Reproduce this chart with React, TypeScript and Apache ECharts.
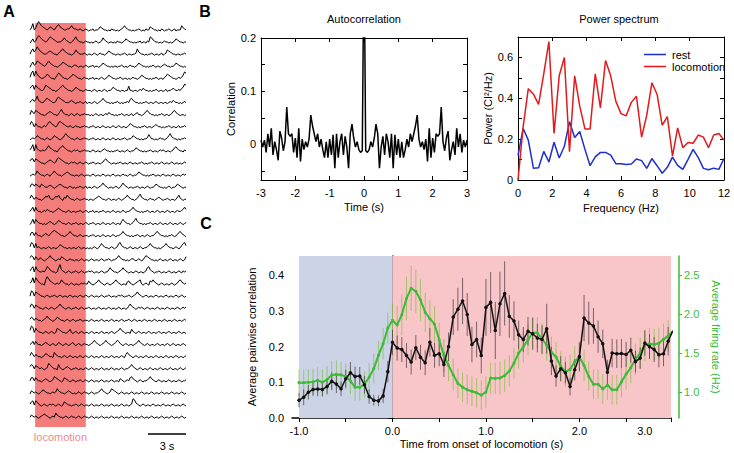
import React, { useEffect, useRef } from "react";
import * as echarts from "echarts";

// ---------- Panel A: calcium traces (each digit = relative height of a sample) ----------
const TRACES: string[] = [
  "1371369754321243213564321122353221121012" + "1011201124321101021101012353211010112101021143211010210112101201115321",
  "0241257643212465432111235321012463211012" + "1101012101253210110102110124321101011201102165321101012110101243211011",
  "1463586432112343211023564321101253211121" + "0110121012110124321101101121011011263211010112101101201254321101101121",
  "0352365432124643211012354321101221011012" + "1011201101243211010110112101012110124321101011210110123211011243211010",
  "2683853211235421102465321101235432110121" + "1011201101210124321101121011010121101243211010112101102354321101212476",
  "3562643211365432110123564321101243211012" + "1110121011012101124321101101151101101213211010112101101201123211213476",
  "1342473211245432112565432111232101121012" + "0110121012353211010112101011214532110101121011012101101101213211010121",
  "1532543211012343211024632110121012101121" + "1101012101101213211010112101101201231101245321101011210110124532101101",
  "3641421101213564321256543211210121101121" + "1011210110121011012101210110124321101011210110123211010112101101201121",
  "0121243211012101243210124643211012101121" + "1011210110121011012101101121011243211010112531101012110124632110101121",
  "2471732112124643211024564321101212101121" + "1101210110123211010112101101210112432110101121011012121011012453211021",
  "3552543211012343212565432110121210121012" + "1011210110124532101101121011012101101121010112101101210110121011010121",
  "0121253211012102353211012343211011012101" + "1101210110121011012101101211012101124321101011210110121011012101101212",
  "1442432143211232101234321101210101121012" + "0110121012353210110121013532101101121011012101124321101012101124321011",
  "2531321101243521124352103253211012101121" + "1011012343211012101101210123532110124632110121101232101121011013521011",
  "1351521101213211012343211012101101121012" + "1011201101121011012101101210112353211010112101101210110121011012112353",
  "0251532110101232101243211012101121011012" + "1011210110121011012101103532110124632110101121011012101101210110121012",
  "1441421101232124565432110123532110121011" + "1011210110121011012101123532110101121011012101124532110101121012453210",
  "2651512101101210110124321101101101210110" + "1010121013532110121012563211012101101210112353211010123532110121013563",
  "3541421321012353210121432101211011012101" + "1012101101210112101123532110101221012101354321101012101101210110121014",
  "2461632112136532110158321012101121012101" + "1212101101210113532110123532101101210110125632101121011012101101210212",
  "2372753211058643211212532110121011012121" + "1421012353210121012353210110342101234510121043532101210110121012453212",
  "1651543211012101121012101101210110121012" + "1012101101210112101101212101121012353210121011012101101210110121012101",
  "2541432110121012101235321012101121012101" + "1210110121011012101101210110135321012121012101101210110121011012101212",
  "2431321101235321012432110121012101121011" + "1012101101210110121011012101121012101101210110121011012101101210110121",
  "3761532110121012101543211012410121012101" + "1012101101210110121012353210110421012101101210110121011012101101210110",
  "1241421101232101210132101210123101210121" + "1012353210123532101235421012101101235321012101101210110121012101101210",
  "2531321101243211053211012101210110121012" + "1012101101210110121011012103532101210110121011012101101210110121011012",
  "3541432121012653211052101232101121011012" + "1012101101210110121011012101123532101210110121011012101101210110121012",
  "1441421101232101254321014321012101121012" + "1012101101210110121011032101214532101210112353210121011012101101210112",
  "0321210124321101212532110123210101210121" + "1012101123532101254321012101101210110121011012101101210110121011012101",
  "2451542101210121210121014321101121012101" + "1012101101210110121011012101101276321012101101210110121011012101101210",
  "1321210123432101215321101210121101210121" + "1012101101210110121011012101101210110121011012101101210110121011012101",
];
const TRACE_DURATION = 12.3; // seconds shown per trace
const LOCO_PERIOD = [0.4, 4.4]; // seconds
const SCALE_BAR_S = 3;

// ---------- Panel B: autocorrelation (lag >= 0, symmetric) ----------
const ACF_CENTER: number[][] = [
  [0, 1.0],
  [0.02, 0.22],
];
const ACF_STEP = 0.05;
// values at lags 0.05, 0.10, ... 3.00
const ACF_POS: number[] = [
  -0.012, -0.015, -0.01, 0.005, -0.005, 0.012, 0.038, 0.02, -0.045,
  -0.005, 0.015, -0.02, 0.02, 0.005, -0.025, 0.02, -0.045, 0.018, -0.02,
  0.01, -0.025, 0.005, -0.025, -0.01, 0.01, -0.005, 0.02, 0.005, 0.02,
  0.035, 0.055, 0.01, -0.005, 0.005, -0.01, 0.01, -0.032, 0.03, -0.025,
  0.012, -0.015, 0.02, 0.015, 0.02, 0.07, 0.005, -0.012, 0.012, 0.025,
  -0.03, -0.01, 0.005, -0.02, 0.03, -0.005, 0.02, -0.015, 0.008, -0.005,
  0.008,
];

// ---------- Panel B: power spectrum ----------
const FREQ_STEP = 0.3;
const PSD_REST: number[] = [
  0.12, 0.252, 0.195, 0.057, 0.06, 0.14, 0.088, 0.185, 0.108, 0.165,
  0.285, 0.208, 0.237, 0.15, 0.07, 0.113, 0.135, 0.135, 0.122, 0.08,
  0.08, 0.076, 0.078, 0.103, 0.095, 0.057, 0.105, 0.07, 0.033, 0.062,
  0.112, 0.072, 0.052, 0.1, 0.15, 0.11, 0.057, 0.05, 0.058, 0.052,
  0.105,
];
const PSD_LOCO: number[] = [
  0.0, 0.26, 0.447, 0.42, 0.37, 0.52, 0.678, 0.228, 0.51, 0.6,
  0.138, 0.51, 0.36, 0.25, 0.25, 0.52, 0.353, 0.585, 0.51, 0.385,
  0.325, 0.314, 0.38, 0.41, 0.21, 0.317, 0.476, 0.42, 0.268, 0.31,
  0.117, 0.255, 0.158, 0.184, 0.18, 0.22, 0.21, 0.158, 0.22, 0.228,
  0.195,
];

// ---------- Panel C ----------
const C_T0 = -1.0;
const C_DT = 0.05;
const REST_PERIOD = [-1.0, 0.0];
const LOCO_PERIOD_C = [0.0, 2.98];
const CORR: number[] = [
  0.05, 0.058, 0.072, 0.08, 0.081, 0.08, 0.088, 0.103, 0.095, 0.082,
  0.11, 0.127, 0.116, 0.118, 0.093, 0.06, 0.05, 0.048, 0.062, 0.13,
  0.212, 0.196, 0.192, 0.175, 0.157, 0.197, 0.17, 0.155, 0.212, 0.176,
  0.18, 0.15, 0.2, 0.283, 0.305, 0.328, 0.29, 0.206, 0.22, 0.175,
  0.31, 0.324, 0.245, 0.32, 0.349, 0.285, 0.272, 0.233, 0.22, 0.243,
  0.236, 0.224, 0.22, 0.25, 0.16, 0.118, 0.138, 0.127, 0.088, 0.135,
  0.172, 0.28, 0.266, 0.258, 0.228, 0.208, 0.128, 0.182, 0.18, 0.181,
  0.178, 0.19, 0.158, 0.168, 0.21, 0.2, 0.192, 0.177, 0.18, 0.215,
  0.245,
];
const CORR_ERR: number[] = [
  0.02, 0.022, 0.02, 0.018, 0.02, 0.02, 0.022, 0.025, 0.025, 0.02,
  0.025, 0.03, 0.028, 0.025, 0.025, 0.02, 0.015, 0.015, 0.02, 0.03,
  0.035, 0.035, 0.035, 0.035, 0.035, 0.035, 0.035, 0.035, 0.04, 0.035,
  0.035, 0.035, 0.04, 0.05, 0.06, 0.065, 0.06, 0.05, 0.05, 0.05,
  0.08, 0.085, 0.08, 0.09, 0.09, 0.06, 0.055, 0.04, 0.035, 0.04,
  0.045, 0.04, 0.04, 0.07, 0.04, 0.03, 0.035, 0.03, 0.025, 0.03,
  0.04, 0.065, 0.06, 0.05, 0.045, 0.04, 0.035, 0.04, 0.04, 0.04,
  0.035, 0.035, 0.03, 0.03, 0.035, 0.035, 0.035, 0.035, 0.035, 0.04,
  0.045,
];
const RATE: number[] = [
  1.12, 1.12, 1.125, 1.13, 1.15, 1.125, 1.16, 1.218, 1.226, 1.22,
  1.2, 1.145, 1.06, 1.06, 1.1, 1.19, 1.3, 1.47, 1.62, 1.82,
  1.92, 1.86, 1.99, 2.2, 2.33, 2.29, 2.18, 2.02, 1.94, 1.87,
  1.67, 1.47, 1.34, 1.22, 1.11, 1.06, 1.03, 1.01, 0.99, 0.96,
  1.0, 1.18, 1.175, 1.18, 1.21, 1.27, 1.37, 1.5, 1.58, 1.67,
  1.76, 1.76, 1.68, 1.6, 1.51, 1.45, 1.33, 1.26, 1.29, 1.39,
  1.45, 1.34, 1.2, 1.1, 1.1, 1.04, 1.09, 1.03, 1.03, 1.13,
  1.23, 1.31, 1.42, 1.5, 1.6, 1.62, 1.61, 1.625, 1.675, 1.72,
  1.78,
];
const RATE_ERR: number[] = [
  0.17, 0.17, 0.17, 0.17, 0.17, 0.17, 0.17, 0.18, 0.18, 0.17,
  0.17, 0.17, 0.17, 0.17, 0.17, 0.18, 0.19, 0.19, 0.2, 0.2,
  0.22, 0.24, 0.26, 0.28, 0.29, 0.28, 0.27, 0.25, 0.24, 0.23,
  0.22, 0.21, 0.2, 0.2, 0.19, 0.19, 0.19, 0.19, 0.19, 0.19,
  0.2, 0.2, 0.2, 0.21, 0.21, 0.2, 0.2, 0.2, 0.2, 0.2,
  0.2, 0.2, 0.2, 0.2, 0.2, 0.19, 0.19, 0.19, 0.19, 0.2,
  0.2, 0.2, 0.19, 0.19, 0.19, 0.19, 0.19, 0.19, 0.19, 0.2,
  0.2, 0.2, 0.2, 0.2, 0.2, 0.2, 0.2, 0.2, 0.2, 0.2,
  0.2,
];

// ---------- styling ----------
const FONT = "'Liberation Sans', Arial, Helvetica, sans-serif";
const GREEN = "#3cba38";
const BLUE = "#1c2fcc";
const RED = "#e3191c";

const gridA = { left: 30, top: 18, width: 156, height: 410 };
const gridB1 = { left: 261, top: 38, width: 206, height: 142 };
const gridB2 = { left: 518, top: 37, width: 206, height: 143 };
const gridC = { left: 292, top: 256, width: 379, height: 162 };

const lbl = { color: "#000", fontSize: 11, fontFamily: FONT };

function boxAxis(extra: any) {
  return {
    type: "value",
    axisLine: { show: true, onZero: false, lineStyle: { color: "#000", width: 1 } },
    axisTick: { show: true, inside: true, length: 4, lineStyle: { color: "#000" } },
    splitLine: { show: false },
    nameTextStyle: { ...lbl },
    ...extra,
    axisLabel: { ...lbl, ...(extra.axisLabel || {}) },
  };
}

function errorBars(xIdx: number, yIdx: number, data: number[][], color: string, z: number) {
  return {
    type: "custom",
    xAxisIndex: xIdx,
    yAxisIndex: yIdx,
    z,
    silent: true,
    clip: true,
    encode: { x: 0, y: 1 },
    data,
    renderItem: (_p: any, api: any) => {
      const t = api.value(0);
      const v = api.value(1);
      const e = api.value(2);
      const a = api.coord([t, v - e]);
      const b = api.coord([t, v + e]);
      return {
        type: "line",
        shape: { x1: a[0], y1: a[1], x2: b[0], y2: b[1] },
        style: { stroke: color, lineWidth: 1 },
      };
    },
  };
}

function buildOption() {
  const series: any[] = [];

  // Panel A: locomotion band
  series.push({
    type: "line",
    xAxisIndex: 0,
    yAxisIndex: 0,
    data: [[0, 0]],
    symbol: "none",
    lineStyle: { opacity: 0 },
    z: 1,
    silent: true,
    markArea: {
      silent: true,
      itemStyle: { color: "#f47d7c" },
      data: [[{ coord: [LOCO_PERIOD[0], 1] }, { coord: [LOCO_PERIOD[1], 405] }]],
    },
  });
  TRACES.forEach((s, k) => {
    const base = 397 - 12.1 * k;
    const n = s.length;
    series.push({
      type: "line",
      xAxisIndex: 0,
      yAxisIndex: 0,
      symbol: "none",
      silent: true,
      z: 3,
      lineStyle: { color: "#000", width: 1 },
      data: s.split("").map((c, i) => [(i / (n - 1)) * TRACE_DURATION, base + Number(c) * 1.05]),
    });
  });

  // Panel B1: autocorrelation (symmetric around 0)
  const pos: number[][] = [
    ...ACF_CENTER,
    ...ACF_POS.map((v, i) => [(i + 1) * ACF_STEP, v]),
  ];
  const acf: number[][] = [];
  for (let i = pos.length - 1; i > 0; i--) acf.push([-pos[i][0], pos[i][1]]);
  for (let i = 0; i < pos.length; i++) acf.push(pos[i]);
  series.push({
    type: "line",
    xAxisIndex: 1,
    yAxisIndex: 1,
    symbol: "none",
    clip: true,
    lineStyle: { color: "#000", width: 1.5 },
    data: acf,
    z: 3,
  });

  // Panel B2: power spectrum
  series.push({
    type: "line",
    name: "rest",
    xAxisIndex: 3,
    yAxisIndex: 3,
    symbol: "none",
    lineStyle: { color: BLUE, width: 1.5 },
    itemStyle: { color: BLUE },
    data: PSD_REST.map((v, i) => [i * FREQ_STEP, v]),
    z: 3,
  });
  series.push({
    type: "line",
    name: "locomotion",
    xAxisIndex: 3,
    yAxisIndex: 3,
    symbol: "none",
    lineStyle: { color: RED, width: 1.5 },
    itemStyle: { color: RED },
    data: PSD_LOCO.map((v, i) => [i * FREQ_STEP, v]),
    z: 4,
  });

  // Panel C
  const times = CORR.map((_, i) => C_T0 + i * C_DT);
  series.push({
    type: "line",
    xAxisIndex: 5,
    yAxisIndex: 5,
    data: [[0, 0]],
    symbol: "none",
    lineStyle: { opacity: 0 },
    z: 1,
    silent: true,
    markArea: {
      silent: true,
      data: [
        [
          { coord: [REST_PERIOD[0], 0], itemStyle: { color: "#cdd3e6" } },
          { coord: [REST_PERIOD[1], 0.454] },
        ],
        [
          { coord: [LOCO_PERIOD_C[0], 0], itemStyle: { color: "#f8c5c9" } },
          { coord: [LOCO_PERIOD_C[1], 0.454] },
        ],
      ],
    },
  });
  series.push(
    errorBars(5, 6, times.map((t, i) => [t, RATE[i], RATE_ERR[i]]), "rgba(110,185,35,0.55)", 2)
  );
  series.push(
    errorBars(5, 5, times.map((t, i) => [t, CORR[i], CORR_ERR[i]]), "rgba(55,45,45,0.65)", 2)
  );
  series.push({
    type: "line",
    xAxisIndex: 5,
    yAxisIndex: 6,
    symbol: "circle",
    symbolSize: 3,
    showAllSymbol: true,
    lineStyle: { color: GREEN, width: 2 },
    itemStyle: { color: GREEN },
    data: times.map((t, i) => [t, RATE[i]]),
    z: 3,
  });
  series.push({
    type: "line",
    xAxisIndex: 5,
    yAxisIndex: 5,
    symbol: "circle",
    symbolSize: 3.5,
    showAllSymbol: true,
    lineStyle: { color: "#111", width: 1.5 },
    itemStyle: { color: "#111" },
    data: times.map((t, i) => [t, CORR[i]]),
    z: 4,
  });

  const scaleX2 = gridA.left + gridA.width;
  const scaleX1 = scaleX2 - (SCALE_BAR_S / TRACE_DURATION) * gridA.width;
  const locoMid =
    gridA.left + (((LOCO_PERIOD[0] + LOCO_PERIOD[1]) / 2) / TRACE_DURATION) * gridA.width;

  const txt = (x: number, y: number, text: string, extra: any = {}) => ({
    type: "text",
    x,
    y,
    silent: true,
    style: {
      text,
      fill: "#000",
      font: `11px ${FONT}`,
      align: "center",
      verticalAlign: "middle",
      textAlign: "center",
      textVerticalAlign: "middle",
      ...extra,
    },
  });

  return {
    animation: false,
    backgroundColor: "#fff",
    textStyle: { fontFamily: FONT },
    grid: [gridA, gridB1, gridB2, gridC].map((g) => ({ ...g, outerBoundsMode: "none", containLabel: false })),
    legend: {
      data: ["rest", "locomotion"],
      left: 639,
      top: 44,
      orient: "vertical",
      icon: "rect",
      itemWidth: 22,
      itemHeight: 1.5,
      itemGap: 1,
      textStyle: { ...lbl, padding: [0, 0, 0, 1] },
      selectedMode: false,
    },
    xAxis: [
      { gridIndex: 0, type: "value", min: 0, max: TRACE_DURATION, show: false },
      boxAxis({
        gridIndex: 1, min: -3, max: 3, interval: 1, position: "bottom",
        name: "Time (s)", nameLocation: "middle", nameGap: 21,
        axisLabel: { margin: 7 },
      }),
      boxAxis({ gridIndex: 1, min: -3, max: 3, interval: 1, position: "top", axisLabel: { show: false } }),
      boxAxis({
        gridIndex: 2, min: 0, max: 12, interval: 2, position: "bottom",
        name: "Frequency (Hz)", nameLocation: "middle", nameGap: 22,
        axisLabel: { margin: 7 },
      }),
      boxAxis({ gridIndex: 2, min: 0, max: 12, interval: 2, position: "top", axisLabel: { show: false } }),
      {
        gridIndex: 3,
        type: "value",
        min: -1.075,
        max: 2.98,
        position: "bottom",
        axisLine: { show: true, onZero: false, lineStyle: { color: "#000", width: 1.5 } },
        axisTick: {
          show: true, length: 4, lineStyle: { color: "#000" },
          customValues: [-1, -0.5, 0, 0.5, 1, 1.5, 2, 2.5, 2.98],
        },
        splitLine: { show: false },
        axisLabel: {
          ...lbl, margin: 7,
          customValues: [-1, 0, 1, 2, 2.7],
          formatter: (v: number) => (v > 2.5 ? "3.0" : v.toFixed(1)),
        },
        name: "Time from onset of locomotion (s)",
        nameLocation: "middle",
        nameGap: 20,
        nameTextStyle: { ...lbl },
      },
    ],
    yAxis: [
      { gridIndex: 0, type: "value", min: 0, max: 410, show: false },
      boxAxis({
        gridIndex: 1, min: -0.067, max: 0.2, position: "left",
        axisTick: { show: true, inside: true, length: 4, lineStyle: { color: "#000" }, customValues: [-0.05, 0, 0.05, 0.1, 0.15, 0.2] },
        axisLabel: { margin: 5, customValues: [0, 0.1, 0.2], formatter: (v: number) => (v === 0 ? "0" : String(v)) },
        name: "Correlation", nameLocation: "middle", nameGap: 24,
      }),
      boxAxis({
        gridIndex: 1, min: -0.067, max: 0.2, position: "right",
        axisTick: { show: true, inside: true, length: 4, lineStyle: { color: "#000" }, customValues: [-0.05, 0, 0.05, 0.1, 0.15, 0.2] },
        axisLabel: { show: false },
      }),
      boxAxis({
        gridIndex: 2, min: 0, max: 0.7, interval: 0.1, position: "left",
        axisLabel: { margin: 5, customValues: [0, 0.2, 0.4, 0.6], formatter: (v: number) => (v === 0 ? "0" : String(Math.round(v * 10) / 10)) },
        name: "Power (CI²/Hz)", nameLocation: "middle", nameGap: 24,
      }),
      boxAxis({ gridIndex: 2, min: 0, max: 0.7, interval: 0.1, position: "right", axisLabel: { show: false } }),
      {
        gridIndex: 3,
        type: "value",
        min: 0,
        max: 0.454,
        position: "left",
        axisLine: { show: true, lineStyle: { color: "#000", width: 1.5 } },
        axisTick: { show: true, length: 4, lineStyle: { color: "#000" }, customValues: [0, 0.1, 0.2, 0.3, 0.4] },
        splitLine: { show: false },
        axisLabel: { ...lbl, margin: 8, customValues: [0, 0.1, 0.2, 0.3, 0.4], formatter: (v: number) => v.toFixed(1) },
        name: "Average pairwise correlation",
        nameLocation: "middle",
        nameGap: 34,
        nameTextStyle: { ...lbl },
      },
      {
        gridIndex: 3,
        type: "value",
        min: 0.667,
        max: 2.744,
        position: "right",
        offset: 8,
        axisLine: { show: true, lineStyle: { color: GREEN, width: 1.5 } },
        axisTick: { show: true, length: 3, lineStyle: { color: GREEN }, customValues: [1.0, 1.5, 2.0, 2.5] },
        splitLine: { show: false },
        axisLabel: { ...lbl, color: GREEN, margin: 5, customValues: [1.0, 1.5, 2.0, 2.5], formatter: (v: number) => v.toFixed(1) },
        name: "Average firing rate (Hz)",
        nameLocation: "middle",
        nameGap: 29,
        nameRotate: -90,
        nameTextStyle: { ...lbl, color: GREEN },
      },
    ],
    series,
    graphic: [
      txt(9, 11, "A", { font: `bold 16px ${FONT}` }),
      txt(205, 11, "B", { font: `bold 16px ${FONT}` }),
      txt(206, 223, "C", { font: `bold 16px ${FONT}` }),
      txt(364, 19, "Autocorrelation"),
      txt(619, 19, "Power spectrum"),
      txt(locoMid, 437, "locomotion", { fill: "#f08a8a" }),
      txt((scaleX1 + scaleX2) / 2, 446, "3 s"),
      {
        type: "line",
        silent: true,
        shape: { x1: scaleX1, y1: 434, x2: scaleX2, y2: 434 },
        style: { stroke: "#000", lineWidth: 1.5 },
      },
    ],
  };
}

export default function App() {
  const ref = useRef<HTMLDivElement>(null);
  useEffect(() => {
    if (!ref.current) return;
    const chart = echarts.init(ref.current, null, { renderer: "svg" });
    chart.setOption(buildOption() as any);
    return () => chart.dispose();
  }, []);
  return (
    <div
      ref={ref}
      style={{ position: "absolute", left: 0, top: 0, width: 734, height: 453 }}
    />
  );
}
